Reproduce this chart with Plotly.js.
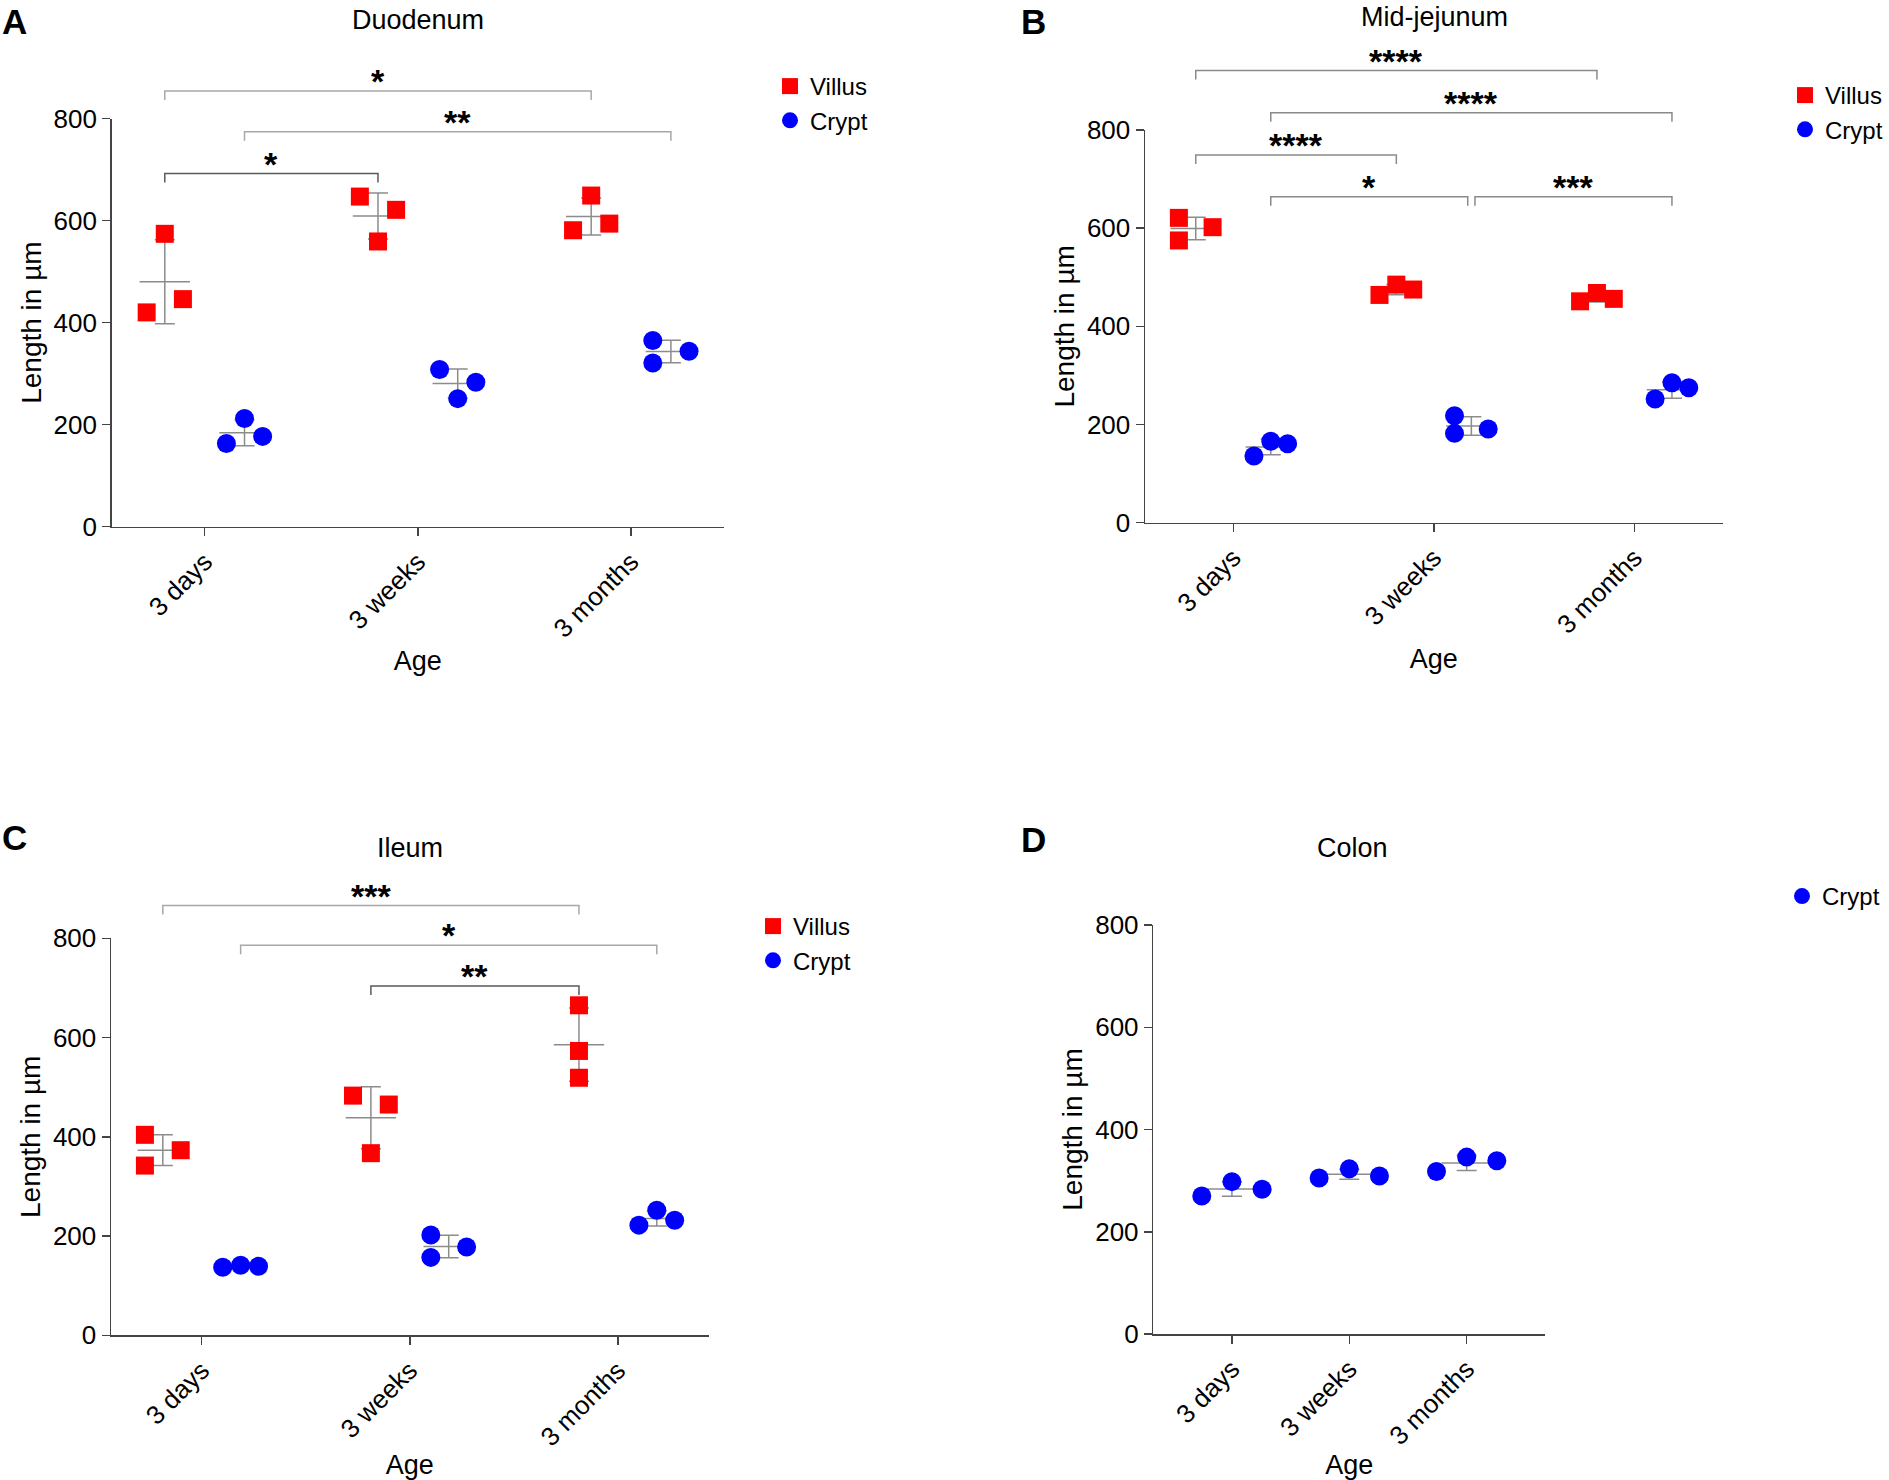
<!DOCTYPE html>
<html>
<head>
<meta charset="utf-8">
<script src="https://cdn.plot.ly/plotly-3.0.1.min.js"></script>
<style>html,body{margin:0;padding:0;background:#fff}</style>
</head>
<body>
<div id="chart" style="width:1889px;height:1480px"></div>
<script>
// ---------------- data ----------------
const ages = ['3 days', '3 weeks', '3 months'];
const yTicks = [0, 200, 400, 600, 800];

// A: Duodenum  (values per age group, µm)
const duoVillus = [[420, 574, 446], [647, 559, 621], [581, 649, 594]];
const duoCrypt  = [[163, 212, 177], [308, 251, 283], [365, 321, 344]];
// B: Mid-jejunum
const jejVillus = [[621, 575, 602], [464, 485, 475], [451, 468, 456]];
const jejCrypt  = [[136, 166, 161], [218, 182, 191], [252, 285, 275]];
// C: Ileum
const ileVillus = [[404, 342, 373], [483, 367, 465], [665, 573, 519]];
const ileCrypt  = [[137, 141, 139], [202, 157, 178], [222, 252, 232]];
// D: Colon
const colCrypt  = [[270, 298, 283], [305, 323, 309], [318, 346, 339]];

// significance comparisons: [seriesFrom, ageFrom, seriesTo, ageTo, label]
const duoSig = [['V', 0, 'V', 2, '*'], ['C', 0, 'C', 2, '**'], ['V', 0, 'V', 1, '*']];
const jejSig = [['V', 0, 'V', 2, '****'], ['C', 0, 'C', 2, '****'], ['V', 0, 'V', 1, '****'],
                ['C', 0, 'C', 1, '*'], ['C', 1, 'C', 2, '***']];
const ileSig = [['V', 0, 'V', 2, '***'], ['C', 0, 'C', 2, '*'], ['V', 1, 'V', 2, '**']];

// ---------------- layout / style ----------------
const W = 1889, H = 1480, YMAX = 1000;
const FONT = 'Arial, "Liberation Sans", Helvetica, sans-serif';
const RED = '#ff0000', BLUE = '#0000ff', AXC = '#444444', ERRC = '#8c8c8c';

const panels = [
  { title: 'Duodenum', letter: 'A', box: {l: 111.7, r: 724, y0: 526.7, y800: 118.5}, xr: [-0.436, 2.436], step: 0.085,
    series: [
      {name: 'Villus', key: 'V', data: duoVillus, off: -0.187, cols: [[-1, 0, 1], [-1, 0, 1], [-1, 0, 1]], sym: 'square', color: RED, size: 18},
      {name: 'Crypt',  key: 'C', data: duoCrypt,  off:  0.187, cols: [[-1, 0, 1], [-1, 0, 1], [-1, -1, 1]], sym: 'circle', color: BLUE, size: 19}],
    sig: duoSig, levels: [854, 774, 692], sigColors: ['#a8a8a8', '#a8a8a8', '#5a5a5a'], nudges: [[0, 0], [0, 0], [0, 0]],
    titleXY: [418, 20], letterXY: [14, 21], legendXY: [790, 86], xStandoff: 8 },
  { title: 'Mid-jejunum', letter: 'B', box: {l: 1145, r: 1722.7, y0: 522.7, y800: 130}, xr: [-0.44, 2.44], step: 0.084,
    series: [
      {name: 'Villus', key: 'V', data: jejVillus, off: -0.187, cols: [[-1, -1, 1], [-1, 0, 1], [-1, 0, 1]], sym: 'square', color: RED, size: 18},
      {name: 'Crypt',  key: 'C', data: jejCrypt,  off:  0.187, cols: [[-1, 0, 1], [-1, -1, 1], [-1, 0, 1]], sym: 'circle', color: BLUE, size: 19}],
    sig: jejSig, levels: [921, 835, 749, 664, 664], sigColors: ['#8a8a8a', '#8a8a8a', '#8a8a8a', '#8a8a8a', '#8a8a8a'],
    nudges: [[0, 0], [0, 0], [0, 0], [0, -0.018], [0.018, 0]],
    titleXY: [1434, 17], letterXY: [1033, 21], legendXY: [1805, 95], xStandoff: 10 },
  { title: 'Ileum', letter: 'C', box: {l: 111, r: 708.6, y0: 1335.3, y800: 938.3}, xr: [-0.436, 2.436], step: 0.086,
    series: [
      {name: 'Villus', key: 'V', data: ileVillus, off: -0.187, cols: [[-1, -1, 1], [-1, 0, 1], [0, 0, 0]], sym: 'square', color: RED, size: 18},
      {name: 'Crypt',  key: 'C', data: ileCrypt,  off:  0.187, cols: [[-1, 0, 1], [-1, -1, 1], [-1, 0, 1]], sym: 'circle', color: BLUE, size: 19}],
    sig: ileSig, levels: [866, 786, 704], sigColors: ['#a8a8a8', '#a8a8a8', '#5a5a5a'], nudges: [[0, 0], [0, 0], [0, 0]],
    titleXY: [410, 848], letterXY: [14, 837], legendXY: [773, 926], xStandoff: 7 },
  { title: 'Colon', letter: 'D', box: {l: 1153.3, r: 1545.3, y0: 1334, y800: 925}, xr: [-0.67, 2.67], step: 0.257,
    series: [
      {name: 'Crypt', key: 'C', data: colCrypt, off: 0, cols: [[-1, 0, 1], [-1, 0, 1], [-1, 0, 1]], sym: 'circle', color: BLUE, size: 19}],
    sig: [], levels: [], sigColors: [], nudges: [],
    titleXY: [1352, 848], letterXY: [1033, 839], legendXY: [1802, 896], xStandoff: 7 }
];

const mean = a => a.reduce((s, v) => s + v, 0) / a.length;
const sd = a => { const m = mean(a); return Math.sqrt(a.reduce((s, v) => s + (v - m) * (v - m), 0) / (a.length - 1)); };

const traces = [], shapes = [], annotations = [];
const layout = {
  width: W, height: H, margin: {l: 0, r: 0, t: 0, b: 0},
  paper_bgcolor: '#ffffff', plot_bgcolor: 'rgba(0,0,0,0)',
  font: {family: FONT, size: 26, color: '#000'},
  showlegend: true, hovermode: false,
  shapes: shapes, annotations: annotations
};

panels.forEach((p, i) => {
  const n = i === 0 ? '' : String(i + 1);
  const xa = 'x' + n, ya = 'y' + n;
  const bn = String(5 + i), yb = 'y' + bn;          // hidden axis for brackets (same scale, taller)
  const b = p.box;
  const pxPerUnit = (b.y0 - b.y800) / 800;
  const yTop = b.y0 - pxPerUnit * YMAX;
  const legName = i === 0 ? 'legend' : 'legend' + (i + 1);

  layout['xaxis' + n] = {
    domain: [b.l / W, b.r / W], range: p.xr, anchor: ya,
    tickmode: 'array', tickvals: [0, 1, 2], ticktext: ages, tickangle: -45,
    ticks: 'outside', ticklen: 8, tickwidth: 1.5, tickcolor: AXC,
    showline: true, linecolor: AXC, linewidth: 1.5, showgrid: false, zeroline: false,
    tickfont: {size: 26, color: '#000'},
    title: {text: 'Age', font: {size: 27, color: '#000'}, standoff: p.xStandoff},
    fixedrange: true
  };
  layout['yaxis' + n] = {
    domain: [1 - b.y0 / H, 1 - b.y800 / H], range: [0, 800], anchor: xa,
    tickmode: 'array', tickvals: yTicks,
    ticks: 'outside', ticklen: 8, tickwidth: 1.5, tickcolor: AXC,
    showline: true, linecolor: AXC, linewidth: 1.5, showgrid: false, zeroline: false,
    tickfont: {size: 26, color: '#000'},
    title: {text: 'Length in µm', font: {size: 28, color: '#000'}, standoff: 4},
    fixedrange: true
  };
  layout['yaxis' + bn] = {
    domain: [1 - b.y0 / H, 1 - yTop / H], range: [0, YMAX], anchor: xa,
    visible: false, showgrid: false, zeroline: false, fixedrange: true
  };
  // empty helper trace so the bracket subplot exists
  traces.push({type: 'scatter', x: [], y: [], xaxis: xa, yaxis: yb, showlegend: false, hoverinfo: 'skip'});

  const offs = {};
  p.series.forEach(s => {
    offs[s.key] = s.off;
    // mean ± SD
    traces.push({
      type: 'scatter', mode: 'markers', xaxis: xa, yaxis: ya, showlegend: false, hoverinfo: 'skip', cliponaxis: false,
      x: s.data.map((g, k) => k + s.off), y: s.data.map(mean),
      marker: {symbol: 'line-ew', size: 36, color: ERRC, line: {color: ERRC, width: 1.5}},
      error_y: {type: 'data', array: s.data.map(sd), visible: true, color: ERRC, thickness: 1.5, width: 10}
    });
  });
  p.series.forEach(s => {
    const px = [], py = [];
    s.data.forEach((grp, g) => grp.forEach((v, k) => { px.push(g + s.off + s.cols[g][k] * p.step); py.push(v); }));
    traces.push({
      type: 'scatter', mode: 'markers', name: s.name, xaxis: xa, yaxis: ya, legend: legName,
      cliponaxis: false, hoverinfo: 'skip', x: px, y: py,
      marker: {symbol: s.sym, size: s.size, color: s.color, line: {width: 0}}
    });
  });

  // significance brackets
  const leg = 9 / pxPerUnit;
  p.sig.forEach((c, k) => {
    const x0 = c[1] + offs[c[0]] + p.nudges[k][0];
    const x1 = c[3] + offs[c[2]] + p.nudges[k][1];
    const L = p.levels[k];
    shapes.push({type: 'path', xref: xa, yref: yb, layer: 'above',
      path: `M${x0},${L - leg} L${x0},${L} L${x1},${L} L${x1},${L - leg}`,
      line: {color: p.sigColors[k], width: 1.5}});
    annotations.push({xref: xa, yref: yb, x: (x0 + x1) / 2, y: L, text: c[4], showarrow: false,
      xanchor: 'center', yanchor: 'bottom', yshift: -11,
      font: {size: 34, color: '#000', family: FONT, weight: 'bold'}});
  });

  // panel title and letter
  annotations.push({xref: 'paper', yref: 'paper', x: p.titleXY[0] / W, y: 1 - p.titleXY[1] / H, text: p.title,
    showarrow: false, xanchor: 'center', yanchor: 'middle', font: {size: 27, color: '#000'}});
  annotations.push({xref: 'paper', yref: 'paper', x: p.letterXY[0] / W, y: 1 - p.letterXY[1] / H, text: '<b>' + p.letter + '</b>',
    showarrow: false, xanchor: 'center', yanchor: 'middle', font: {size: 35, color: '#000'}});

  // legend
  layout[legName] = {
    x: (p.legendXY[0] - 20) / W, y: 1 - (p.legendXY[1] - 22) / H, xanchor: 'left', yanchor: 'top',
    bgcolor: 'rgba(0,0,0,0)', borderwidth: 0, font: {size: 24, color: '#000'}, tracegroupgap: 0
  };
});

Plotly.newPlot('chart', traces, layout, {staticPlot: true, displayModeBar: false});
</script>
</body>
</html>
